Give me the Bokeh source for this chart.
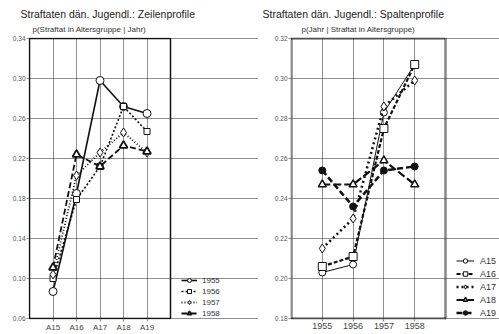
from bokeh.plotting import figure
from bokeh.models import Legend, LegendItem, Title, FixedTicker
from bokeh.layouts import row
from bokeh.embed import file_html
from bokeh.resources import INLINE

FONT = "Liberation Sans"

# ---- data: row profiles (left) ----
ages = ["A15", "A16", "A17", "A18", "A19"]
y1955 = [0.087, 0.185, 0.298, 0.272, 0.265]
y1956 = [0.100, 0.179, 0.212, 0.272, 0.247]
y1957 = [0.104, 0.203, 0.226, 0.246, 0.226]
y1958 = [0.111, 0.224, 0.212, 0.233, 0.227]
left_yticks = [0.06, 0.10, 0.14, 0.18, 0.22, 0.26, 0.30, 0.34]

# ---- data: column profiles (right) ----
years = ["1955", "1956", "1957", "1958"]
a15 = [0.203, 0.207, 0.283, 0.307]
a16 = [0.206, 0.211, 0.275, 0.307]
a17 = [0.215, 0.230, 0.286, 0.299]
a18 = [0.247, 0.247, 0.259, 0.247]
a19 = [0.254, 0.236, 0.254, 0.256]
right_yticks = [0.18, 0.20, 0.22, 0.24, 0.26, 0.28, 0.30, 0.32]

H = 334          # figure height
TOP = 37         # border above frame
FRAME_H = 283    # frame height (plot box 281 px + 1 px pad each side)
BOX_H = 281


def base_fig(ncat, ylo, yhi, yticks, cats, width, border_l, box_w, xfs, outline):
    frame_w = width - border_l
    s = (ncat + 1) / box_w
    sy = (yhi - ylo) / BOX_H
    p = figure(width=width, height=H, output_backend="svg",
               toolbar_location=None,
               x_range=(-s, -s + frame_w * s), y_range=(ylo - sy, yhi + sy),
               min_border_left=border_l, min_border_right=0,
               min_border_top=TOP, min_border_bottom=H - TOP - FRAME_H)
    p.background_fill_color = "white"
    p.border_fill_color = "white"
    p.outline_line_color = None
    xt = list(range(1, ncat + 1))
    p.xaxis.ticker = FixedTicker(ticks=xt)
    p.xaxis.major_label_overrides = {i + 1: c for i, c in enumerate(cats)}
    p.yaxis.ticker = FixedTicker(ticks=yticks)
    p.yaxis.major_label_overrides = {v: "%.2f" % v for v in yticks}
    for ax in (p.xaxis, p.yaxis):
        ax.axis_line_color = None
        ax.major_tick_in = 0
        ax.major_tick_out = 2
        ax.major_tick_line_color = "#888888"
        ax.minor_tick_line_color = None
        ax.major_label_text_font = FONT
        ax.major_label_text_color = "#555555"
        ax.major_label_text_font_style = "normal"
        ax.major_label_standoff = 1
    p.yaxis.major_label_text_font_size = "6.5px"
    p.xaxis.major_label_text_font_size = xfs
    p.xaxis.major_label_text_color = "#444444"
    p.xaxis.major_label_standoff = 1
    for g in (p.xgrid, p.ygrid):
        g.grid_line_color = "#222222"
        g.grid_line_dash = "1 1"
        g.grid_line_width = 1
        g.grid_line_alpha = 1
    p.ygrid.bounds = (0, ncat + 1)
    p.xgrid.bounds = (ylo, yhi)
    # plot box
    if outline == "solid":
        p.quad(left=[0], right=[ncat + 1], bottom=[ylo], top=[yhi], fill_color=None,
               line_color="#111111", line_width=1.5)
    else:
        p.quad(left=[0], right=[ncat + 1], bottom=[ylo], top=[yhi], fill_color=None,
               line_color="#111111", line_width=2.5, line_dash="1 1")
    return p


def add_titles(p, main, sub, off_main, off_sub):
    p.add_layout(Title(text=sub, align="left", text_font=FONT, text_font_size="8px",
                       text_font_style="normal", text_color="#333333", standoff=7,
                       offset=off_sub), "above")
    p.add_layout(Title(text=main, align="left", text_font=FONT, text_font_size="10.5px",
                       text_font_style="normal", text_color="#222222", standoff=0,
                       offset=off_main), "above")


# ---------- left ----------
pl = base_fig(len(ages), 0.06, 0.34, left_yticks, ages, 258, 28, 141, "8px", "solid")
xl = [i + 1 for i in range(len(ages))]
items = []
r1 = pl.line(xl, y1955, line_color="#111111", line_width=1.6)
m1 = pl.scatter(xl, y1955, marker="circle", size=8, fill_color="white", line_color="#111111", line_width=1)
r2 = pl.line(xl, y1956, line_color="#111111", line_width=1.6, line_dash="2 2")
m2 = pl.scatter(xl, y1956, marker="square", size=6, fill_color="white", line_color="#111111", line_width=1)
r3 = pl.line(xl, y1957, line_color="#111111", line_width=1.8, line_dash="1 2")
m3 = pl.scatter(xl, y1957, marker="diamond", size=9, fill_color="white", line_color="#111111", line_width=1)
r4 = pl.line(xl, y1958, line_color="#111111", line_width=1.8, line_dash="6 3")
m4 = pl.scatter(xl, y1958, marker="triangle", size=8, fill_color="white", line_color="#111111", line_width=1.8)
for lab, rs in zip(["1955", "1956", "1957", "1958"], [(r1, m1), (r2, m2), (r3, m3), (r4, m4)]):
    items.append(LegendItem(label=lab, renderers=list(rs)))
legl = Legend(items=items, location=(153, 1), label_text_font=FONT,
              label_text_font_size="8px", label_text_color="#333333",
              glyph_width=16, glyph_height=10, spacing=1, padding=0, margin=0,
              label_standoff=5, border_line_color=None, background_fill_alpha=0,
              label_height=10)
pl.add_layout(legl)
add_titles(pl, "Straftaten dän. Jugendl.: Zeilenprofile", "p(Straftat in Altersgruppe | Jahr)", -8, 4)

# ---------- right ----------
pr = base_fig(len(years), 0.18, 0.32, right_yticks, years, 241, 32, 154, "9px", "dotted")
xr = [i + 1 for i in range(len(years))]
ritems = []
q1 = pr.line(xr, a15, line_color="#111111", line_width=1)
n1 = pr.scatter(xr, a15, marker="circle", size=7, fill_color="white", line_color="#111111", line_width=1)
q2 = pr.line(xr, a16, line_color="#111111", line_width=2.2, line_dash="4 2")
n2 = pr.scatter(xr, a16, marker="square", size=8, fill_color="white", line_color="#111111", line_width=1)
q3 = pr.line(xr, a17, line_color="#111111", line_width=2.5, line_dash="2 3")
n3 = pr.scatter(xr, a17, marker="diamond", size=9, fill_color="white", line_color="#111111", line_width=1)
q4 = pr.line(xr, a18, line_color="#111111", line_width=2.2, line_dash="8 3")
n4 = pr.scatter(xr, a18, marker="triangle", size=8, fill_color="white", line_color="#111111", line_width=1.5)
q5 = pr.line(xr, a19, line_color="#111111", line_width=2.5, line_dash="6 3")
n5 = pr.scatter(xr, a19, marker="circle", size=7, fill_color="#111111", line_color="#111111", line_width=1)
for lab, rs in zip(ages, [(q1, n1), (q2, n2), (q3, n3), (q4, n4), (q5, n5)]):
    ritems.append(LegendItem(label=lab, renderers=list(rs)))
legr = Legend(items=ritems, location=(166, 1), label_text_font=FONT,
              label_text_font_size="9px", label_text_color="#333333",
              glyph_width=18, glyph_height=11, spacing=2, padding=0, margin=0,
              label_standoff=6, border_line_color=None, background_fill_alpha=0,
              label_height=11)
pr.add_layout(legr)
add_titles(pr, "Straftaten dän. Jugendl.: Spaltenprofile", "p(Jahr | Straftat in Altersgruppe)", -28, 11)

layout = row(pl, pr, spacing=0)
open("out.html", "w").write(file_html(layout, INLINE))
